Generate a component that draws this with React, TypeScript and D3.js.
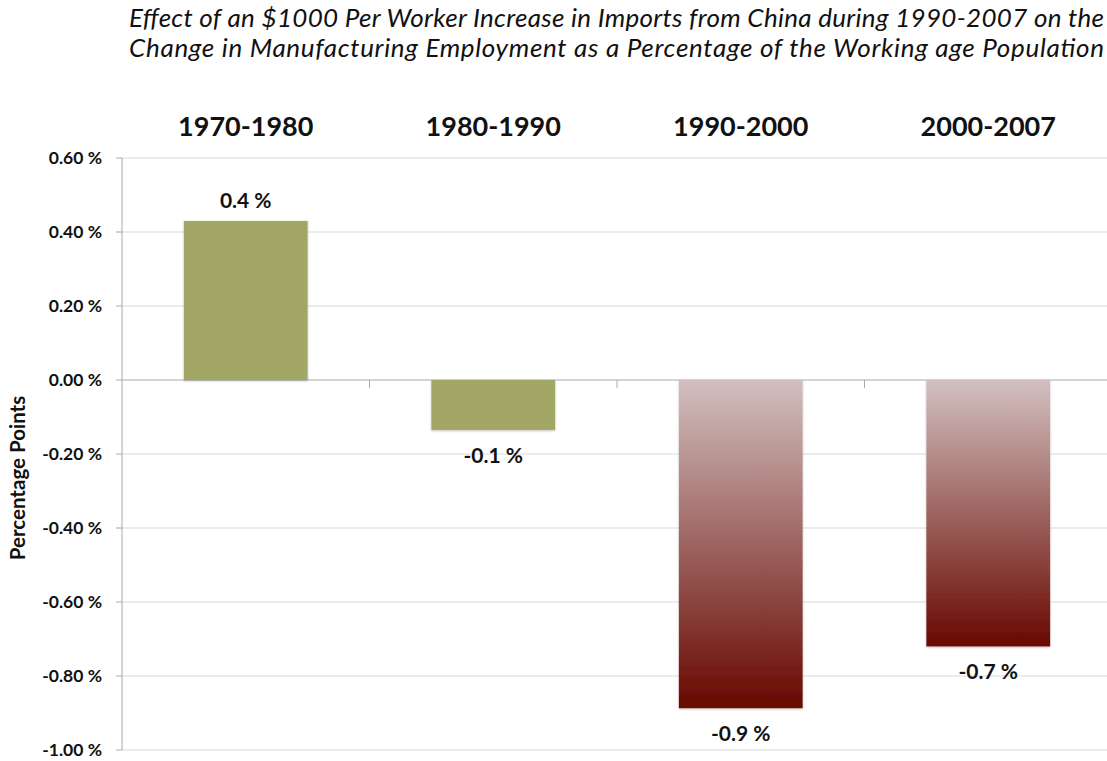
import React from "react";
import * as d3 from "d3";

const categories = ["1970-1980", "1980-1990", "1990-2000", "2000-2007"];
const values = [0.43, -0.135, -0.887, -0.72];
const valueLabels = ["0.4 %", "-0.1 %", "-0.9 %", "-0.7 %"];
const yTicks = [0.6, 0.4, 0.2, 0, -0.2, -0.4, -0.6, -0.8, -1.0];
const titleLines = [
  "Effect of an $1000 Per Worker Increase in Imports from China during 1990-2007 on the",
  "Change in Manufacturing Employment as a Percentage of the Working age Population",
];
const yAxisTitle = "Percentage Points";

const W = 1107;
const H = 761;
const left = 122;
const right = 1112;
const top = 158;
const bottom = 750;
const FONT = "Lato, 'Open Sans', sans-serif";

export default function App() {
  const x = d3.scaleBand<string>().domain(categories).range([left, right]).paddingInner(0.5).paddingOuter(0.25);
  const y = d3.scaleLinear().domain([-1.0, 0.6]).range([bottom, top]);
  const bw = x.bandwidth();
  const step = x.step();
  const boundaries = categories.slice(1).map((c) => (x(c) as number) - step * 0.25);

  return (
    <svg width={W} height={H} style={{ position: "absolute", left: 0, top: 0, background: "#fff" }}>
      <defs>
        <linearGradient id="redGrad" x1="0" y1="0" x2="0" y2="1">
          <stop offset="0%" stopColor="#d2c0c0" />
          <stop offset="100%" stopColor="#680800" />
        </linearGradient>
        <filter id="shadow" x="-10%" y="-10%" width="120%" height="120%">
          <feDropShadow dx="0" dy="1" stdDeviation="1" floodColor="#000" floodOpacity="0.25" />
        </filter>
      </defs>
      {titleLines.map((t, i) => (
        <text key={i} x={1104} y={27 + i * 30} textAnchor="end" fontFamily={FONT} fontStyle="italic" fontSize={26} fill="#111"
          textLength={975} lengthAdjust="spacing">
          {t}
        </text>
      ))}
      {/* gridlines */}
      {yTicks.map((t) => (
        <line key={t} x1={left} x2={W} y1={y(t)} y2={y(t)} stroke={t === 0 ? "#a8a8a8" : "#d9d9d9"} strokeWidth={1} />
      ))}
      {/* y axis */}
      <line x1={left} x2={left} y1={top} y2={bottom} stroke="#a8a8a8" strokeWidth={1} />
      {yTicks.map((t) => (
        <g key={"t" + t}>
          <line x1={left - 6} x2={left} y1={y(t)} y2={y(t)} stroke="#a8a8a8" />
          <text x={102} y={y(t) + 6} textAnchor="end" fontFamily={FONT} fontWeight="bold" fontSize={17.5} fill="#111">
            {t.toFixed(2) + " %"}
          </text>
        </g>
      ))}
      {boundaries.map((bx, i) => (
        <line key={"b" + i} x1={bx} x2={bx} y1={y(0)} y2={y(0) + 8} stroke="#a8a8a8" />
      ))}
      {/* bars */}
      {categories.map((c, i) => {
        const v = values[i];
        const y0 = y(Math.max(0, v));
        const y1 = y(Math.min(0, v));
        const fill = i < 2 ? "#a3a766" : "url(#redGrad)";
        return (
          <rect key={c} x={x(c)} y={y0} width={bw} height={y1 - y0} fill={fill} filter="url(#shadow)" />
        );
      })}
      {/* value labels */}
      {categories.map((c, i) => {
        const v = values[i];
        const cx = (x(c) as number) + bw / 2;
        const ly = v >= 0 ? y(v) - 13 : y(v) + 33;
        return (
          <text key={"l" + c} x={cx} y={ly} textAnchor="middle" fontFamily={FONT} fontWeight="bold" fontSize={21} fill="#111">
            {valueLabels[i]}
          </text>
        );
      })}
      {/* category labels */}
      {categories.map((c) => (
        <text key={"c" + c} x={(x(c) as number) + bw / 2} y={136} textAnchor="middle" fontFamily={FONT} fontWeight="bold" fontSize={27} fill="#111">
          {c}
        </text>
      ))}
      <text transform={`translate(25,478) rotate(-90)`} textAnchor="middle" fontFamily={FONT} fontWeight="bold" fontSize={20.5} fill="#111">
        {yAxisTitle}
      </text>
    </svg>
  );
}
